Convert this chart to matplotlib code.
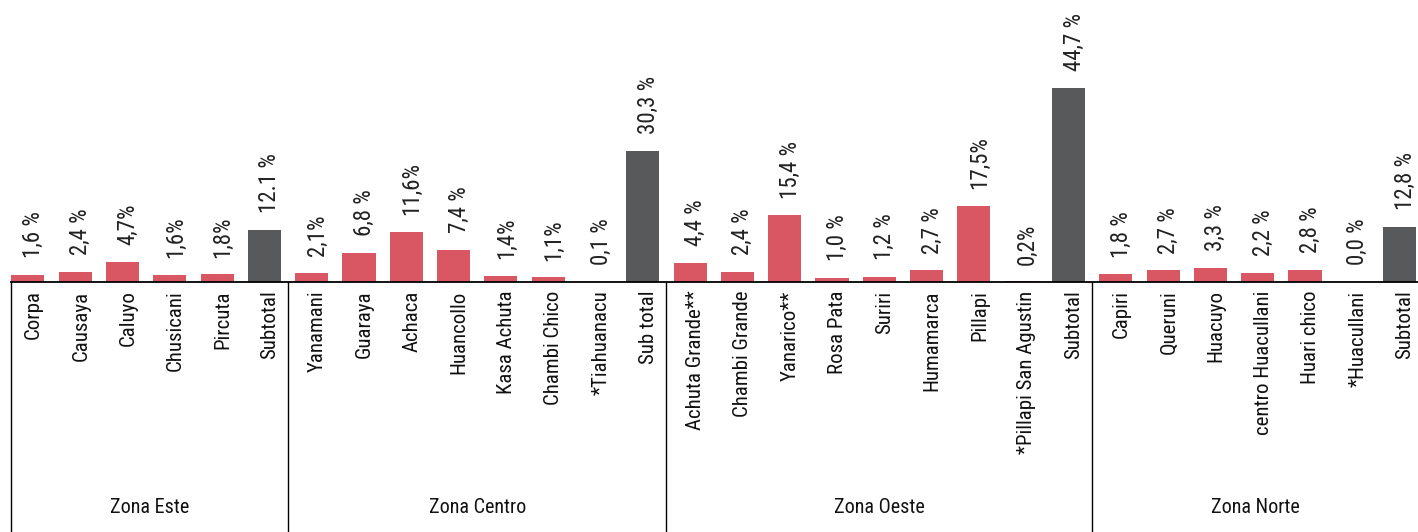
import numpy as np
import matplotlib
matplotlib.use("Agg")
import matplotlib.pyplot as plt

# datos por zona
zonas = ["Zona Este", "Zona Centro", "Zona Oeste", "Zona Norte"]

este_nombres = ["Corpa", "Causaya", "Caluyo", "Chusicani", "Pircuta", "Subtotal"]
este_valores = [1.6, 2.4, 4.7, 1.6, 1.8, 12.1]
este_etiquetas = ["1,6 %", "2,4 %", "4,7%", "1,6%", "1,8%", "12.1 %"]

centro_nombres = ["Yanamani", "Guaraya", "Achaca", "Huancollo", "Kasa Achuta",
                  "Chambi Chico", "*Tiahuanacu", "Sub total"]
centro_valores = [2.1, 6.8, 11.6, 7.4, 1.4, 1.1, 0.1, 30.3]
centro_etiquetas = ["2,1%", "6,8 %", "11,6%", "7,4 %", "1,4%", "1,1%", "0,1 %", "30,3 %"]

oeste_nombres = ["Achuta Grande**", "Chambi Grande", "Yanarico**", "Rosa Pata", "Suriri",
                 "Humamarca", "Pillapi", "*Pillapi San Agustin", "Subtotal"]
oeste_valores = [4.4, 2.4, 15.4, 1.0, 1.2, 2.7, 17.5, 0.2, 44.7]
oeste_etiquetas = ["4,4 %", "2,4 %", "15,4 %", "1,0 %", "1,2 %", "2,7 %", "17,5%", "0,2%", "44,7 %"]

norte_nombres = ["Capiri", "Queruni", "Huacuyo", "centro Huacullani", "Huari chico",
                 "*Huacullani", "Subtotal"]
norte_valores = [1.8, 2.7, 3.3, 2.2, 2.8, 0.0, 12.8]
norte_etiquetas = ["1,8 %", "2,7 %", "3,3 %", "2,2 %", "2,8 %", "0,0 %", "12,8 %"]

grupos = [
    (este_nombres, este_valores, este_etiquetas),
    (centro_nombres, centro_valores, centro_etiquetas),
    (oeste_nombres, oeste_valores, oeste_etiquetas),
    (norte_nombres, norte_valores, norte_etiquetas),
]

rojo = "#D95763"
gris = "#58595B"
fuente = ["Roboto Condensed", "DejaVu Sans"]

fig = plt.figure(figsize=(14.18, 5.32), dpi=100)
ax = fig.add_axes([0, 0, 1, 1])
ax.set_xlim(-0.59, 29.39)
ax.set_ylim(-57.6, 65.0)
ax.axis("off")

ancho = 0.7
pos = 0
limites = []
for nombres, valores, etiquetas in grupos:
    x = np.arange(pos, pos + len(nombres))
    colores = [rojo] * (len(nombres) - 1) + [gris]
    ax.bar(x, valores, width=ancho, color=colores)
    for xi, v, et, nom in zip(x, valores, etiquetas, nombres):
        # porcentaje encima de la barra
        ax.annotate(et, (xi, v), xytext=(4, 12), textcoords="offset points",
                    rotation=90, ha="center", va="bottom", fontsize=16.5,
                    family=fuente, color="#222222")
        # nombre de la comunidad debajo
        ax.annotate(nom, (xi, 0), xytext=(4, -6), textcoords="offset points",
                    rotation=90, ha="center", va="top", fontsize=15,
                    family=fuente, color="#111111")
    limites.append((pos, pos + len(nombres)))
    pos += len(nombres)

# linea base y separadores de zona
izq = -ancho / 2
der = ax.get_xlim()[1]
ax.plot([izq, der], [0, 0], color="black", lw=1.3)
separadores = [izq] + [b - 0.5 for a, b in limites[:-1]]
for s in separadores:
    ax.plot([s, s], [0, -57.6], color="black", lw=1.0)

bordes = separadores + [der]
for i, zona in enumerate(zonas):
    ax.text((bordes[i] + bordes[i + 1]) / 2, -52.0, zona, ha="center", va="center",
            fontsize=14.5, family=fuente, color="#111111")

fig.savefig("out.png", dpi=100)
